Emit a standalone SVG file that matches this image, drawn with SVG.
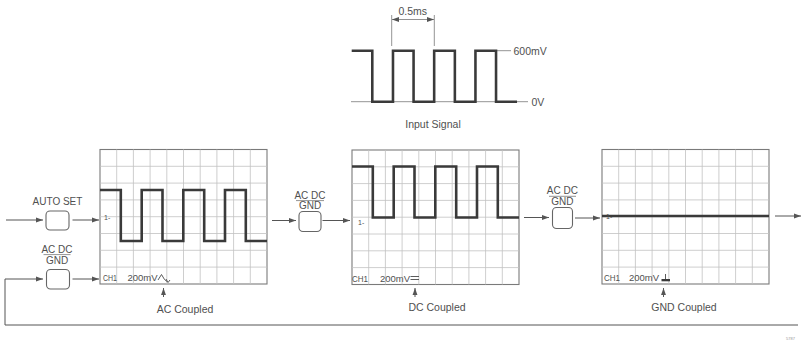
<svg xmlns="http://www.w3.org/2000/svg" width="802" height="344" viewBox="0 0 802 344">
<style>
text{font-family:"Liberation Sans",Arial,sans-serif;fill:#505050}
.lbl{font-size:10.5px}
.sm{font-size:10px}
.ch{font-size:9.5px}
.mk{font-size:7px}
.conn{fill:none;stroke:#555;stroke-width:1}
.btn{fill:#fff;stroke:#666;stroke-width:1.1}
.thin{fill:none;stroke:#777;stroke-width:0.8}
.trace{fill:none;stroke:#3a3a3a;stroke-width:2.6;stroke-linejoin:miter}
.frame{fill:#fff;stroke:#7a7a7a;stroke-width:1.1}
.gridl{fill:none;stroke:#c2c2c2;stroke-width:0.8}
</style>
<defs>
<marker id="ah" viewBox="0 0 10 10" refX="10" refY="5" markerWidth="7" markerHeight="7" markerUnits="userSpaceOnUse" orient="auto-start-reverse">
<path d="M0,1.5 L10,5 L0,8.5 Z" fill="#555"/>
</marker>
<g id="scr">
<rect class="frame" x="0" y="0" width="167" height="134.5"/>
<path class="gridl" d="M16.7,0V134.5M33.4,0V134.5M50.1,0V134.5M66.8,0V134.5M83.5,0V134.5M100.2,0V134.5M116.9,0V134.5M133.6,0V134.5M150.3,0V134.5M0,16.8H167M0,33.6H167M0,50.4H167M0,67.2H167M0,84H167M0,100.8H167M0,117.6H167"/>
</g>
<path id="wave" d="M0,0 H20.8 V51 H41.7 V0 H62.5 V51 H83.3 V0 H104.2 V51 H125 V0 H145.8 V51 H167"/>
</defs>

<g id="input-signal">
<path class="thin" d="M351,101.7 H528 M495,50.7 H511"/>
<use href="#wave" class="trace" transform="translate(351.7,50.7) scale(0.99,1)"/>
<path class="thin" d="M391.7,15 V46 M434.3,15 V46"/>
<path class="thin" d="M392,19.5 H434" marker-start="url(#ah)" marker-end="url(#ah)"/>
<text class="lbl" x="412.8" y="14.5" text-anchor="middle">0.5ms</text>
<text class="lbl" x="513.5" y="55">600mV</text>
<text class="lbl" x="531.5" y="105.5">0V</text>
<text class="lbl" x="433" y="128" text-anchor="middle">Input Signal</text>
</g>

<g id="btn-autoset">
<text class="sm" x="57.5" y="205" text-anchor="middle">AUTO SET</text>
<rect class="btn" x="46" y="211" width="23" height="19" rx="4"/>
</g>

<g id="btn-coupling-1">
<text class="sm" x="57" y="252.7" text-anchor="middle">AC DC</text>
<line class="thin" x1="43.5" y1="254.6" x2="70.5" y2="254.6"/>
<text class="sm" x="57" y="263.5" text-anchor="middle">GND</text>
<rect class="btn" x="46.5" y="269.5" width="23" height="19.5" rx="4"/>
</g>

<g id="screen-ac">
<use href="#scr" x="100" y="149.5"/>
<use href="#wave" class="trace" transform="translate(100,190)"/>
<text class="mk" x="104" y="219.5">1-</text>
<text class="ch" x="103" y="281" textLength="14" lengthAdjust="spacingAndGlyphs">CH1</text>
<text class="ch" x="127.5" y="281">200mV</text>
<path d="M158,280 L161.5,274.5 L164.5,279.5 L167,281.5 M166,279 L168,282.5 L170,280" fill="none" stroke="#4a4a4a" stroke-width="0.9"/>
<text class="lbl" x="185" y="313" text-anchor="middle">AC Coupled</text>
</g>

<g id="btn-coupling-2">
<text class="sm" x="310" y="198.5" text-anchor="middle">AC DC</text>
<line class="thin" x1="296" y1="200.6" x2="324" y2="200.6"/>
<text class="sm" x="310" y="209" text-anchor="middle">GND</text>
<rect class="btn" x="299" y="211.5" width="22" height="20" rx="4"/>
</g>

<g id="screen-dc">
<use href="#scr" x="352" y="150"/>
<use href="#wave" class="trace" transform="translate(352,166.5)"/>
<text class="mk" x="358" y="225">1-</text>
<text class="ch" x="352" y="281.7" textLength="16" lengthAdjust="spacingAndGlyphs">CH1</text>
<text class="ch" x="380" y="281.7">200mV</text>
<path d="M410.5,276.5 H419 M410.5,279.5 H419" fill="none" stroke="#4a4a4a" stroke-width="0.9"/>
<text class="lbl" x="437" y="311" text-anchor="middle">DC Coupled</text>
</g>

<g id="btn-coupling-3">
<text class="sm" x="562.3" y="194.3" text-anchor="middle">AC DC</text>
<line class="thin" x1="549" y1="196.3" x2="576" y2="196.3"/>
<text class="sm" x="562.3" y="204.5" text-anchor="middle">GND</text>
<rect class="btn" x="552.5" y="207.5" width="20" height="21" rx="4"/>
</g>

<g id="screen-gnd">
<use href="#scr" x="602" y="149.5"/>
<path d="M602,216 H769" class="trace"/>
<text class="mk" x="606" y="219">1-</text>
<text class="ch" x="604" y="281" textLength="16" lengthAdjust="spacingAndGlyphs">CH1</text>
<text class="ch" x="629" y="281">200mV</text>
<path d="M665.5,274 V279" fill="none" stroke="#4a4a4a" stroke-width="0.9"/>
<rect x="661.5" y="279" width="8.5" height="2.3" fill="#3a3a3a"/>
<text class="lbl" x="684" y="311" text-anchor="middle">GND Coupled</text>
</g>

<g id="connectors">
<path class="conn" d="M6,220 H43" marker-end="url(#ah)"/>
<path class="conn" d="M72.5,220 H99" marker-end="url(#ah)"/>
<path class="conn" d="M798,325 H5 V279 H43" marker-end="url(#ah)"/>
<path class="conn" d="M72.5,279 H99" marker-end="url(#ah)"/>
<path class="conn" d="M272,220.5 H296" marker-end="url(#ah)"/>
<path class="conn" d="M322.5,220.5 H350" marker-end="url(#ah)"/>
<path class="conn" d="M524,217.5 H549" marker-end="url(#ah)"/>
<path class="conn" d="M575,218 H600" marker-end="url(#ah)"/>
<path class="conn" d="M775,216 H801" marker-end="url(#ah)"/>
<path class="conn" d="M163.5,297 V288" marker-end="url(#ah)"/>
<path class="conn" d="M415,297 V288" marker-end="url(#ah)"/>
<path class="conn" d="M663.5,297 V288" marker-end="url(#ah)"/>
</g>

<text x="786" y="340" style="font-size:4px;fill:#999">5787</text>
</svg>
